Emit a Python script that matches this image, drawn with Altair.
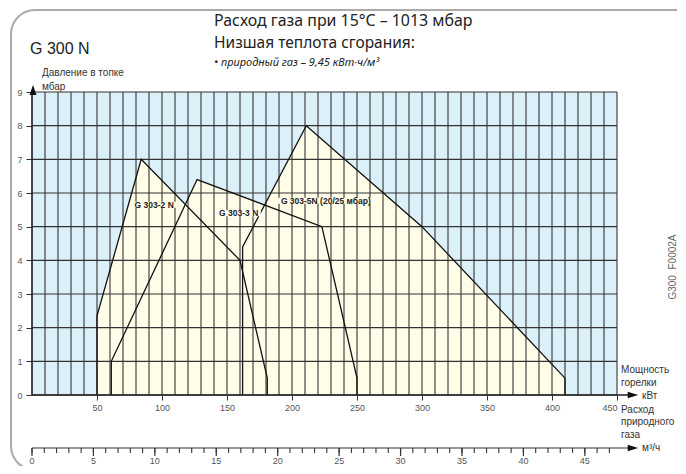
import altair as alt
import pandas as pd

# ---------------- data ----------------
x_grid_kw = list(range(0, 451, 10))
y_grid = list(range(0, 10))
x_labels_kw = list(range(50, 451, 50))
m3_ticks = list(range(0, 48))
m3_major = list(range(0, 46, 5))
KWH_PER_M3 = 9.45

models = ["G 303-2 N", "G 303-3 N", "G 303-5N (20/25 мбар)"]
kw_2n = [50, 50, 84, 160, 181, 181]
mbar_2n = [0, 2.35, 7.0, 4.0, 0.5, 0]
kw_3n = [61, 61, 127, 223, 250, 250]
mbar_3n = [0, 1.0, 6.4, 5.0, 0.5, 0]
kw_5n = [162, 162, 211, 300, 410, 410]
mbar_5n = [0, 4.4, 8.0, 5.0, 0.5, 0]

label_kw = [94, 159, 226]
label_mbar = [5.65, 5.4, 5.77]
label_box_w = [44, 44, 102]
label_box_fill = ["#fffce8", "#ffffff", "#fffce8"]

header_lines = ["Расход газа при 15°C – 1013 мбар", "Низшая теплота сгорания:"]
header_italic = "• природный газ – 9,45 кВт·ч/м³"
chart_name = "G 300 N"
y_title = ["Давление в топке", "мбар"]
x_title = ["Мощность", "горелки"]
x_unit = "кВт"
x2_title = ["Расход", "природного", "газа"]
x2_unit = "м³/ч"
code_text = "G300_F0002A"

# ---------------- styles ----------------
W, H = 585, 303
BLUE = "#dcf0fa"
CREAM = "#fffce8"
GRID = "#333333"
SANS = "Liberation Sans"
HEAD = "Noto Sans"

rows = []
for name, kws, ps in zip(models, [kw_2n, kw_3n, kw_5n], [mbar_2n, mbar_3n, mbar_5n]):
    for i, (k, p) in enumerate(zip(kws, ps)):
        rows.append({"model": name, "kw": k, "mbar": p, "idx": i,
                     "edge": i in (0, len(kws) - 1)})
poly = pd.DataFrame(rows)

labels = pd.DataFrame({
    "model": models, "kw": label_kw, "mbar": label_mbar,
    "fill": label_box_fill,
    "shape": [f"M-1,-{6/w:.4f}L1,-{6/w:.4f}L1,{6/w:.4f}L-1,{6/w:.4f}Z" for w in label_box_w],
    "size": [w * w for w in label_box_w],
})

xs = alt.Scale(domain=[0, 450], nice=False, zero=False)
ys = alt.Scale(domain=[0, 9], nice=False)
xaxis = alt.Axis(
    values=x_labels_kw, title=None, grid=False, domain=False, tickSize=5,
    tickColor="#333", labelFontSize=9, labelColor="#555", labelFont=SANS,
    labelPadding=3, labelFlush=True)
yaxis = alt.Axis(
    values=y_grid, title=None, grid=False, domain=False, tickSize=6,
    tickColor="#333", labelFontSize=9, labelColor="#555", labelFont=SANS,
    labelPadding=4, labelFlush=False)


def X(field="kw"):
    return alt.X(f"{field}:Q", scale=xs, axis=xaxis, title=None)


def Y(field="mbar", **kw):
    return alt.Y(f"{field}:Q", scale=ys, axis=yaxis, title=None, **kw)


dummy = pd.DataFrame({"a": [0]})

area = alt.Chart(poly).transform_filter("!datum.edge").mark_area(
    color=CREAM, opacity=1
).encode(x=X(), y=Y(stack=None), detail="model:N")

vgrid = alt.Chart(pd.DataFrame({"kw": x_grid_kw})).mark_rule(
    color=GRID, strokeWidth=1.1
).encode(x=X(), y=alt.value(0), y2=alt.value(H))

hgrid = alt.Chart(pd.DataFrame({"mbar": y_grid})).mark_rule(
    color=GRID, strokeWidth=1.1
).encode(y=Y(), x=alt.value(0), x2=alt.value(W))

outline = alt.Chart(poly).mark_line(color="#111", strokeWidth=1.3).encode(
    x=X(), y=Y(), detail="model:N", order="idx:Q",
)

boxes = alt.Chart(labels).mark_point(filled=True, opacity=1, strokeWidth=0).encode(
    x=X(), y=Y(),
    shape=alt.Shape("shape:N", scale=None),
    size=alt.Size("size:Q", scale=None),
    color=alt.Color("fill:N", scale=None),
)

label_text = alt.Chart(labels).mark_text(
    font=SANS, fontSize=8.5, fontWeight="bold", color="#222", baseline="middle"
).encode(x=X(), y=Y(), text="model:N")

# axis lines and arrows
axis_lines = [
    alt.Chart(dummy).mark_rule(color="#222", strokeWidth=1.3).encode(
        x=alt.value(0), x2=alt.value(598), y=alt.value(H)),
    alt.Chart(dummy).mark_rule(color="#222", strokeWidth=1.3).encode(
        x=alt.value(0), y=alt.value(H), y2=alt.value(-2)),
    alt.Chart(dummy).mark_rule(color="#333", strokeWidth=1.2).encode(
        x=alt.value(0), x2=alt.value(598), y=alt.value(356)),
    alt.Chart(dummy).mark_point(shape="M0,-1L0.7,1L-0.7,1Z", size=100, filled=True,
                                color="#111", opacity=1).encode(
        x=alt.value(1), y=alt.value(-2)),
    alt.Chart(dummy).mark_point(shape="M1,0L-1,-0.6L-1,0.6Z", size=112, filled=True,
                                color="#111", opacity=1).encode(
        x=alt.value(601), y=alt.value(H)),
    alt.Chart(dummy).mark_point(shape="M1,0L-1,-0.6L-1,0.6Z", size=112, filled=True,
                                color="#111", opacity=1).encode(
        x=alt.value(601), y=alt.value(356)),
]

m3df = pd.DataFrame({"m3": m3_ticks})
minor = alt.Chart(m3df).transform_calculate(kw=f"datum.m3 * {KWH_PER_M3}").mark_rule(
    color="#333", strokeWidth=1.1
).encode(x=X(), y=alt.value(356), y2=alt.value(361))

m3maj = pd.DataFrame({"m3": m3_major})
major = alt.Chart(m3maj).transform_calculate(kw=f"datum.m3 * {KWH_PER_M3}").mark_rule(
    color="#333", strokeWidth=1.2
).encode(x=X(), y=alt.value(356), y2=alt.value(364))

m3lab = alt.Chart(m3maj).transform_calculate(kw=f"datum.m3 * {KWH_PER_M3}").mark_text(
    font=SANS, fontSize=9, color="#555", baseline="middle"
).encode(x=X(), y=alt.value(369), text="m3:Q")


def txt(s, x, y, size=10, font=SANS, weight="normal", style="normal",
        align="left", color="#222", angle=0):
    return alt.Chart(dummy).mark_text(
        text=s, align=align, baseline="middle", fontSize=size, font=font,
        fontWeight=weight, fontStyle=style, color=color, angle=angle
    ).encode(x=alt.value(x), y=alt.value(y))


texts = [
    txt(header_lines[0], 182, -71, size=15.9, font=HEAD),
    txt(header_lines[1], 182, -49, size=15.5, font=HEAD),
    txt(header_italic, 182, -29, size=11, font=HEAD, style="italic"),
    txt(chart_name, -2, -43, size=16),
    txt(y_title[0], 10, -19, size=10, color="#333"),
    txt(y_title[1], 10, -5, size=10, color="#333"),
    txt(x_title[0], 589, 278, size=10, color="#333"),
    txt(x_title[1], 589, 291, size=10, color="#333"),
    txt(x_unit, 610, 304, size=10, color="#333"),
    txt(x2_title[0], 589, 318, size=10, color="#333"),
    txt(x2_title[1], 589, 330, size=10, color="#333"),
    txt(x2_title[2], 589, 343, size=10, color="#333"),
    txt(x2_unit, 610, 356, size=10, color="#333"),
    txt(code_text, 641, 175, size=10, color="#666", angle=270, align="center"),
]

border = alt.Chart(dummy).mark_rect(
    fillOpacity=0, stroke="#aaaaaa", strokeWidth=2, cornerRadius=24
).encode(x=alt.value(-21), x2=alt.value(720), y=alt.value(-82), y2=alt.value(378))

chart = alt.layer(
    area, vgrid, hgrid, outline, boxes, label_text, minor, major, m3lab,
    *axis_lines, *texts, border
).properties(
    width=W, height=H,
    autosize=alt.AutoSizeParams(type="none"),
    padding={"left": 24, "top": 84, "right": 60, "bottom": 71},
).configure_view(fill=BLUE, stroke=None)

chart.save("out.html", embed_options={"renderer": "svg", "actions": False})
